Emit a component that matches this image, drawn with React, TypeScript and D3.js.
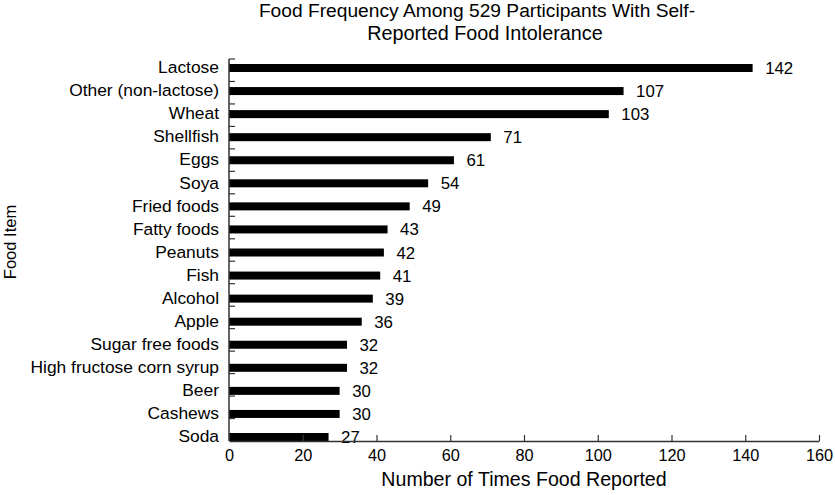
import React, { useEffect, useRef } from 'react';
import * as d3 from 'd3';

const items = [
  'Lactose',
  'Other (non-lactose)',
  'Wheat',
  'Shellfish',
  'Eggs',
  'Soya',
  'Fried foods',
  'Fatty foods',
  'Peanuts',
  'Fish',
  'Alcohol',
  'Apple',
  'Sugar free foods',
  'High fructose corn syrup',
  'Beer',
  'Cashews',
  'Soda',
];
const counts = [142, 107, 103, 71, 61, 54, 49, 43, 42, 41, 39, 36, 32, 32, 30, 30, 27];
const xTicks = [0, 20, 40, 60, 80, 100, 120, 140, 160];

const FONT = '"Liberation Sans", Arial, sans-serif';

const App: React.FC = () => {
  const svgRef = useRef<SVGSVGElement>(null);

  useEffect(() => {
    if (!svgRef.current) return;
    const svg = d3.select(svgRef.current);
    svg.selectAll('*').remove();

    const left = 229;
    const right = 819;
    const top = 59;
    const bottom = 441;
    const axisColor = '#333';

    const x = d3.scaleLinear().domain([0, 160]).range([left, right]);
    // category bands for the axis ticks
    const yBand = d3.scaleBand<string>().domain(items).range([top, bottom]);
    // bar centres
    const y = d3.scalePoint<string>().domain(items).range([68, 437]);
    const barH = 8;

    const data = items.map((name, i) => ({ name, value: counts[i] }));

    // bars
    svg.append('g')
      .selectAll('rect')
      .data(data)
      .enter()
      .append('rect')
      .attr('x', x(0))
      .attr('y', d => (y(d.name) as number) - barH / 2)
      .attr('width', d => x(d.value) - x(0))
      .attr('height', barH)
      .attr('fill', '#000');

    // value labels
    svg.append('g')
      .selectAll('text')
      .data(data)
      .enter()
      .append('text')
      .attr('x', d => x(d.value) + 12.5)
      .attr('y', d => y(d.name) as number)
      .attr('dy', '0.36em')
      .style('font-family', FONT)
      .style('font-size', '16.8px')
      .attr('fill', '#000')
      .text(d => d.value);

    // category labels
    svg.append('g')
      .selectAll('text')
      .data(data)
      .enter()
      .append('text')
      .attr('x', 219)
      .attr('y', d => y(d.name) as number)
      .attr('dy', '0.3em')
      .attr('text-anchor', 'end')
      .style('font-family', FONT)
      .style('font-size', '17.4px')
      .attr('fill', '#000')
      .text(d => d.name);

    // y axis line and inner ticks at band edges
    svg.append('line')
      .attr('x1', left).attr('x2', left)
      .attr('y1', top).attr('y2', bottom)
      .attr('stroke', axisColor)
      .attr('stroke-width', 1.5);

    const edges = items.map(d => yBand(d) as number);
    svg.append('g')
      .selectAll('line')
      .data(edges)
      .enter()
      .append('line')
      .attr('x1', left)
      .attr('x2', left + 6)
      .attr('y1', d => d)
      .attr('y2', d => d)
      .attr('stroke', axisColor)
      .attr('stroke-width', 1.2);

    // x axis
    const gx = svg.append('g')
      .attr('transform', `translate(0,${bottom})`)
      .call(
        d3.axisBottom(x)
          .tickValues(xTicks)
          .tickSizeInner(-6)
          .tickSizeOuter(0)
          .tickPadding(8)
      );
    gx.select('.domain').attr('stroke', axisColor).attr('stroke-width', 1.5);
    gx.selectAll('.tick line').attr('stroke', axisColor).attr('stroke-width', 1.2);
    gx.selectAll('.tick text')
      .attr('fill', '#000')
      .style('font-family', FONT)
      .style('font-size', '16.3px');

    // axis titles
    svg.append('text')
      .attr('x', (left + right) / 2)
      .attr('y', 486)
      .attr('text-anchor', 'middle')
      .style('font-family', FONT)
      .style('font-size', '19.6px')
      .attr('fill', '#000')
      .text('Number of Times Food Reported');

    svg.append('text')
      .attr('transform', 'translate(16,242) rotate(-90)')
      .attr('text-anchor', 'middle')
      .style('font-family', FONT)
      .style('font-size', '16.5px')
      .attr('fill', '#000')
      .text('Food Item');

    // title
    svg.append('text')
      .attr('x', 477)
      .attr('y', 17)
      .attr('text-anchor', 'middle')
      .style('font-family', FONT)
      .style('font-size', '19.2px')
      .attr('fill', '#000')
      .text('Food Frequency Among 529 Participants With Self-');
    svg.append('text')
      .attr('x', 485)
      .attr('y', 40)
      .attr('text-anchor', 'middle')
      .style('font-family', FONT)
      .style('font-size', '19.8px')
      .attr('fill', '#000')
      .text('Reported Food Intolerance');
  }, []);

  return (
    <svg
      ref={svgRef}
      width={835}
      height={495}
      style={{ position: 'absolute', left: 0, top: 0, background: '#fff' }}
    />
  );
};

export default App;
